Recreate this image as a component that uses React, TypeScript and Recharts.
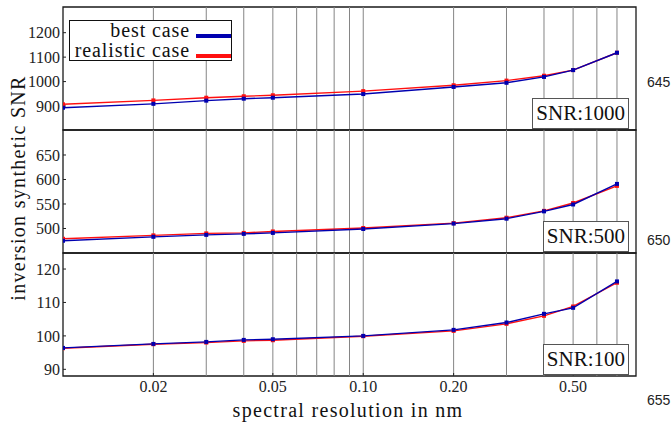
import React from 'react';
import { LineChart, Line, XAxis, YAxis, ReferenceLine, ReferenceArea } from 'recharts';

// spectral resolution (nm) of each simulated case
const resolution = [0.01, 0.02, 0.03, 0.04, 0.05, 0.1, 0.2, 0.3, 0.4, 0.5, 0.7];

const best1000 = [893, 909, 922, 930, 934, 949, 978, 995, 1019, 1047, 1118];
const real1000 = [907, 923, 934, 940, 944, 961, 985, 1004, 1024, 1047, 1118];

const best500 = [475, 483, 487, 489, 491, 499, 510, 520, 535, 549, 591];
const real500 = [479, 486, 490, 491, 494, 501, 511, 522, 536, 552, 587];

const best100 = [96.4, 97.6, 98.2, 98.8, 99.0, 100.0, 101.8, 104.0, 106.6, 108.4, 116.3];
const real100 = [96.3, 97.5, 98.0, 98.5, 98.7, 99.9, 101.5, 103.6, 106.0, 108.8, 115.9];

const xTicks = [0.02, 0.05, 0.1, 0.2, 0.5];
const gridX = [0.02, 0.03, 0.04, 0.05, 0.06, 0.07, 0.08, 0.09, 0.1, 0.2, 0.3, 0.4, 0.5, 0.6, 0.7];
const yTicks1000 = [900, 1000, 1100, 1200];
const yTicks500 = [500, 550, 600, 650];
const yTicks100 = [90, 100, 110, 120];

const panelLabels = ['SNR:1000', 'SNR:500', 'SNR:100'];
const lineNumbers = ['645', '650', '655'];
const seriesNames = ['best case', 'realistic case'];

const X_DOMAIN: [number, number] = [0.01, 0.81];
const BLUE = '#0000b0';
const RED = '#ff1010';
const SERIF = '"Liberation Serif", "DejaVu Serif", serif';
const W = 671;
const PLOT_LEFT = 63;
const PLOT_RIGHT = 35;
const PLOT_H = 123;
const PAD = 5;
const X_AXIS_H = 34;

const toRows = (best: number[], real: number[]) =>
  resolution.map((r, i) => ({ r, best: best[i], real: real[i] }));

const squareDot = (color: string) => (p: any) => (
  <rect key={p.index} x={p.cx - 2} y={p.cy - 2} width={4} height={4} fill={color} />
);

const tickStyle = { fontFamily: SERIF, fontSize: 16, fill: '#222' };
const tickLineStyle = { stroke: '#222', strokeWidth: 1 };

interface PanelProps {
  plotTop: number;
  best: number[];
  real: number[];
  yDomain: [number, number];
  yTicks: number[];
  label: string;
  showX?: boolean;
}

function Panel({ plotTop, best, real, yDomain, yTicks, label, showX }: PanelProps) {
  const height = PAD + PLOT_H + (showX ? X_AXIS_H : PAD);
  return (
    <div style={{ position: 'absolute', left: 0, top: plotTop - PAD, width: W, height }}>
      <LineChart
        width={W}
        height={height}
        data={toRows(best, real)}
        margin={{ top: PAD, right: PLOT_RIGHT, bottom: showX ? 0 : PAD, left: 0 }}
      >
        <XAxis
          dataKey="r"
          type="number"
          scale="log"
          domain={X_DOMAIN}
          allowDataOverflow
          ticks={xTicks}
          tickFormatter={(v: number) => v.toFixed(2)}
          hide={!showX}
          height={X_AXIS_H}
          tick={tickStyle}
          tickLine={tickLineStyle}
          tickSize={-3}
          tickMargin={8}
          axisLine={false}
        />
        <YAxis
          type="number"
          domain={yDomain}
          allowDataOverflow
          ticks={yTicks}
          width={PLOT_LEFT}
          tick={tickStyle}
          tickLine={tickLineStyle}
          tickSize={-3}
          tickMargin={6}
          axisLine={false}
        />
        {gridX.map((v) => (
          <ReferenceLine key={v} x={v} stroke="#858585" strokeWidth={1} />
        ))}
        <ReferenceArea
          x1={X_DOMAIN[0]}
          x2={X_DOMAIN[1]}
          y1={yDomain[0]}
          y2={yDomain[1]}
          fill="none"
          fillOpacity={0}
          stroke="#1a1a1a"
          strokeWidth={1.3}
        />
        <Line
          dataKey="real"
          stroke={RED}
          strokeWidth={1.4}
          dot={squareDot(RED)}
          isAnimationActive={false}
        />
        <Line
          dataKey="best"
          stroke={BLUE}
          strokeWidth={1.4}
          dot={squareDot(BLUE)}
          isAnimationActive={false}
        />
      </LineChart>
      <div
        style={{
          position: 'absolute',
          right: PLOT_RIGHT + 7,
          top: PAD + PLOT_H - 32,
          height: 29,
          padding: '0 3px',
          border: '1px solid #555',
          background: '#fff',
          fontFamily: SERIF,
          fontSize: 21,
          lineHeight: '29px',
          color: '#111',
        }}
      >
        {label}
      </div>
    </div>
  );
}

export default function App() {
  return (
    <div style={{ position: 'absolute', left: 0, top: 0, width: W, height: 425, background: '#fff', fontFamily: SERIF }}>
      <Panel plotTop={7} best={best1000} real={real1000} yDomain={[802, 1305]} yTicks={yTicks1000} label={panelLabels[0]} />
      <Panel plotTop={130} best={best500} real={real500} yDomain={[450, 701]} yTicks={yTicks500} label={panelLabels[1]} />
      <Panel plotTop={253} best={best100} real={real100} yDomain={[88, 124.8]} yTicks={yTicks100} label={panelLabels[2]} showX />

      {/* legend */}
      <div
        style={{
          position: 'absolute',
          left: 69,
          top: 20,
          width: 161,
          height: 39,
          border: '1.3px solid #111',
          background: '#fff',
        }}
      >
        {seriesNames.map((name, i) => (
          <div key={name} style={{ position: 'absolute', left: 0, top: i * 20, width: 161, height: 20 }}>
            <span
              style={{
                position: 'absolute',
                right: 41,
                top: -2,
                fontSize: 20,
                lineHeight: '23px',
                letterSpacing: 0.9,
                color: '#111',
                whiteSpace: 'nowrap',
              }}
            >
              {name}
            </span>
            <div
              style={{
                position: 'absolute',
                left: 126,
                top: 13,
                width: 35,
                height: 3.5,
                background: i === 0 ? BLUE : RED,
              }}
            />
          </div>
        ))}
      </div>

      {/* axis titles */}
      <div
        style={{
          position: 'absolute',
          left: 18,
          top: 188,
          transform: 'translate(-50%, -50%) rotate(-90deg)',
          fontSize: 20,
          letterSpacing: 1.3,
          whiteSpace: 'nowrap',
          color: '#111',
        }}
      >
        inversion synthetic SNR
      </div>
      <div
        style={{
          position: 'absolute',
          left: 348,
          top: 410,
          transform: 'translate(-50%, -50%)',
          fontSize: 20,
          letterSpacing: 1.3,
          whiteSpace: 'nowrap',
          color: '#111',
        }}
      >
        spectral resolution in nm
      </div>

      {/* page line numbers */}
      {lineNumbers.map((n, i) => (
        <div
          key={n}
          style={{
            position: 'absolute',
            left: 647,
            top: [83, 241, 401][i] - 9,
            fontFamily: '"Liberation Sans", Arial, sans-serif',
            fontSize: 14,
            color: '#222',
          }}
        >
          {n}
        </div>
      ))}
    </div>
  );
}
